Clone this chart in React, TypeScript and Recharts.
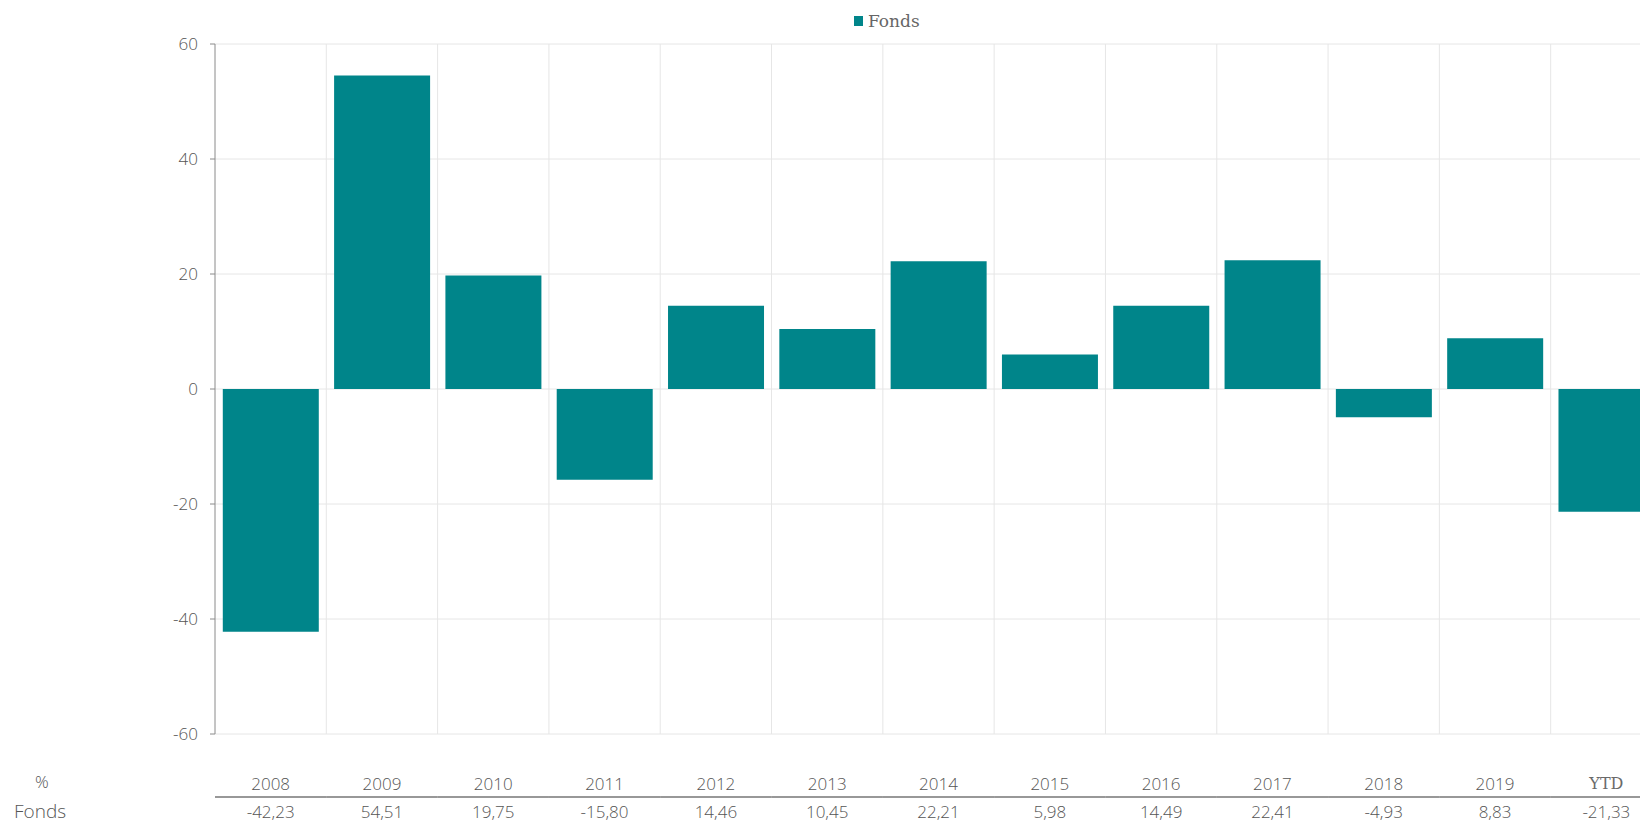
import { BarChart, Bar, XAxis, YAxis, CartesianGrid, Cell } from "recharts";

const categories = ["2008", "2009", "2010", "2011", "2012", "2013", "2014", "2015", "2016", "2017", "2018", "2019", "YTD"];
const fondsValues = [-42.23, 54.51, 19.75, -15.8, 14.46, 10.45, 22.21, 5.98, 14.49, 22.41, -4.93, 8.83, -21.33];
const yTicks = [-60, -40, -20, 0, 20, 40, 60];

const TEAL = "#00858a";
const GREY_TEXT = "#555";
const SANS = "'Open Sans', Lato, sans-serif";
const SERIF = "'DejaVu Serif', 'Liberation Serif', serif";

const CHART_W = 1666;
const CHART_H = 823;
const PLOT_LEFT = 215;
const PLOT_RIGHT_MARGIN = 4;
const bandWidth = (CHART_W - PLOT_LEFT - PLOT_RIGHT_MARGIN) / categories.length;

const data = categories.map((name, i) => ({ name, idx: i, fonds: fondsValues[i] }));
const gridTicks = categories.slice(1).map((_, i) => i + 1);

const fmt = (v: number) => v.toFixed(2).replace(".", ",");

function TableTick(props: any) {
  const { x, y, payload, index } = props;
  const label = payload.value as string;
  const isText = /[A-Za-z]/.test(label);
  return (
    <g>
      <text
        x={x}
        y={y + 49}
        textAnchor="middle"
        dominantBaseline="central"
        fill={isText ? "#6a6a6a" : GREY_TEXT}
        fontSize={isText ? 16 : 17}
        fontWeight={300}
        fontFamily={isText ? SERIF : SANS}
      >
        {label}
      </text>
      <line x1={x - bandWidth / 2} x2={x + bandWidth / 2} y1={y + 63} y2={y + 63} stroke="#333" strokeWidth={1.2} />
      <text x={x} y={y + 77} textAnchor="middle" dominantBaseline="central" fill={GREY_TEXT} fontSize={17} fontWeight={300} fontFamily={SANS}>
        {fmt(fondsValues[index])}
      </text>
    </g>
  );
}

export default function App() {
  return (
    <div style={{ position: "fixed", left: 0, top: 0, width: 1640, height: 823, overflow: "hidden", background: "#fff" }}>
      <div style={{ position: "absolute", left: 854, top: 11, display: "flex", alignItems: "center", gap: 5 }}>
        <div style={{ width: 9, height: 10, background: TEAL }} />
        <span style={{ fontFamily: SERIF, fontSize: 17, color: "#666" }}>Fonds</span>
      </div>
      <div style={{ position: "absolute", left: 35, top: 770, fontFamily: SANS, fontWeight: 300, fontSize: 17, color: GREY_TEXT }}>%</div>
      <div style={{ position: "absolute", left: 14, top: 798, fontFamily: SANS, fontWeight: 300, fontSize: 19, color: GREY_TEXT }}>Fonds</div>
      <BarChart
        width={CHART_W}
        height={CHART_H}
        data={data}
        margin={{ top: 44, right: PLOT_RIGHT_MARGIN, bottom: 0, left: 0 }}
        barCategoryGap="7%"
      >
        <CartesianGrid xAxisId="grid" stroke="#e6e6e6" verticalValues={gridTicks} />
        <XAxis
          dataKey="name"
          axisLine={false}
          tickLine={false}
          tickSize={0}
          tickMargin={0}
          interval={0}
          height={89}
          tick={<TableTick />}
        />
        <XAxis xAxisId="grid" type="number" dataKey="idx" domain={[0, categories.length]} ticks={gridTicks} hide height={0} />
        <YAxis
          width={PLOT_LEFT}
          domain={[-60, 60]}
          ticks={yTicks}
          interval={0}
          tickSize={5}
          tickMargin={12}
          axisLine={{ stroke: "#8a8a8a" }}
          tickLine={{ stroke: "#8a8a8a" }}
          tick={{ fill: GREY_TEXT, fontSize: 17, fontWeight: 300, fontFamily: SANS }}
        />
        <Bar dataKey="fonds" fill={TEAL} isAnimationActive={false}>
          {data.map((d) => (
            <Cell key={d.name} fill={TEAL} />
          ))}
        </Bar>
      </BarChart>
    </div>
  );
}
